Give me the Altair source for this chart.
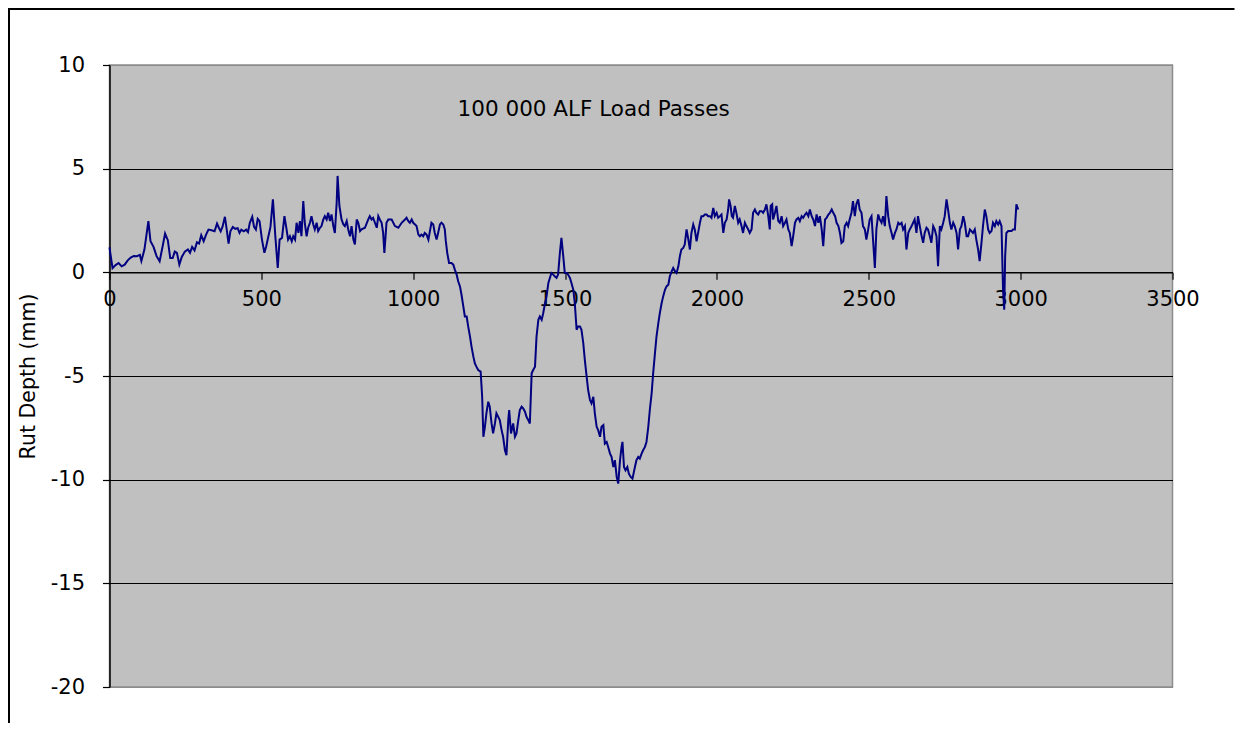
import altair as alt
import pandas as pd

# Distance along the profile (mm) and measured rut depth (mm)
dist = [
    0, 10, 20, 30, 40, 50, 60, 70, 80, 90, 100, 105, 115, 128, 135, 145, 155, 165, 175, 183,
    192, 200, 208, 215, 222, 230, 238, 248, 258, 265, 272, 280, 288, 295, 302, 310, 318, 326, 336, 346,
    354, 360, 366, 372, 380, 386, 392, 398, 406, 414, 422, 428, 434, 442, 450, 456, 462, 470, 476, 482,
    488, 494, 502, 510, 516, 522, 530, 538, 546, 554, 560, 568, 576,
    583, 588, 594, 600, 605, 611, 616, 622, 627, 632, 638, 643, 649, 654, 660, 665, 671, 676, 682, 687,
    693, 698, 704, 709, 715, 720, 726, 731, 737, 742, 748, 751, 757, 764, 770, 775, 781, 786, 792, 797,
    803, 808, 814, 819, 825, 830, 841, 852, 857, 863, 868, 874, 880, 885, 890, 896, 901, 905, 909, 912,
    918, 929, 940, 951, 962, 973, 978, 984, 989, 995, 1000, 1006, 1011, 1017, 1022, 1027, 1033, 1038, 1044, 1050,
    1055, 1060, 1066, 1071, 1077, 1082, 1088, 1093, 1099, 1104,
    1107, 1112, 1118, 1126, 1132, 1137, 1143, 1148, 1154, 1159, 1165, 1170, 1176, 1181, 1187, 1192, 1198, 1203, 1208, 1214,
    1222, 1227, 1231, 1236, 1241, 1247, 1252, 1258, 1263, 1269, 1274, 1280, 1285, 1291, 1296, 1302, 1307, 1313, 1316, 1322,
    1329, 1335, 1340, 1346, 1351, 1357, 1362, 1368, 1373, 1379, 1384, 1390, 1395, 1401, 1406, 1412, 1417, 1423, 1428, 1434,
    1439, 1445, 1450, 1455, 1461, 1466, 1472, 1477, 1483, 1488, 1494, 1499, 1505, 1510, 1516, 1521, 1527, 1532, 1538, 1543,
    1549, 1554, 1560, 1565, 1571, 1576, 1582, 1587, 1593, 1598, 1604, 1609, 1615, 1620, 1626, 1631, 1637, 1642, 1648, 1653,
    1659, 1664, 1670, 1675, 1681, 1686, 1689, 1694, 1699, 1705, 1710, 1716, 1722, 1730, 1735, 1741, 1746, 1752, 1757, 1763,
    1768, 1774, 1779, 1785, 1790, 1796, 1801, 1807, 1812, 1818, 1823, 1829, 1834, 1840, 1845, 1851, 1856, 1862, 1867,
    1873, 1878, 1883, 1889, 1894, 1900, 1905, 1911, 1916, 1922, 1927, 1933, 1938, 1944, 1949, 1955, 1960, 1966, 1971, 1977,
    1982, 1988, 1993, 1999, 2004, 2010, 2015, 2021, 2026, 2032, 2037, 2040, 2045, 2049, 2053, 2059, 2064, 2070, 2075, 2081,
    2086, 2092, 2097, 2103, 2108, 2114, 2119, 2125, 2130, 2136, 2141, 2147, 2152, 2158, 2163, 2169, 2174, 2177, 2182, 2185,
    2191, 2196, 2202, 2207, 2213, 2218, 2224, 2229, 2235, 2240, 2246, 2251, 2257, 2262, 2268, 2273, 2279, 2284, 2290, 2295,
    2301, 2306, 2312, 2317, 2323, 2328, 2334, 2339, 2345, 2350, 2356, 2361, 2367, 2372, 2378, 2383, 2389, 2394, 2400, 2405,
    2410, 2416, 2421, 2427, 2432, 2437, 2443, 2448,
    2454, 2459, 2465, 2470, 2476, 2481, 2487, 2492, 2498, 2503, 2509, 2514, 2520, 2525, 2531, 2536, 2542, 2547, 2553, 2558,
    2564, 2569, 2575, 2580, 2586, 2591, 2597, 2602, 2608, 2613, 2619, 2624, 2630, 2635, 2641, 2646, 2651, 2657, 2662, 2668,
    2673, 2679, 2684, 2690, 2695, 2701, 2706, 2712, 2717, 2723, 2728, 2734, 2739, 2745, 2750, 2756, 2761, 2767, 2772, 2778,
    2783, 2789, 2794, 2800, 2805, 2811, 2816, 2822, 2827, 2833, 2838, 2843, 2849, 2854, 2860, 2865, 2871, 2876, 2882, 2887,
    2893, 2898, 2904, 2909, 2915, 2920, 2926, 2931, 2937, 2942, 2946, 2949, 2953, 2959, 2964, 2970, 2975, 2981, 2986, 2992,
]
rut = [
    1.2, 0.2, 0.35, 0.45, 0.29, 0.37, 0.58, 0.71, 0.79, 0.78, 0.84, 0.55, 1.1, 2.47, 1.5, 1.23, 0.78, 0.53, 1.26, 1.87,
    1.55, 0.69, 0.69, 1.0, 0.94, 0.37, 0.74, 1.0, 1.1, 0.94, 1.23, 1.06, 1.45, 1.39, 1.79, 1.5, 1.82, 2.06, 2.03, 1.98,
    2.35, 2.15, 1.98, 2.19, 2.68, 2.06, 1.39, 1.98, 2.19, 2.1, 2.13, 1.9, 2.06, 1.98, 2.06, 1.94, 2.39, 2.68, 2.19, 2.06,
    2.58, 2.47, 1.58, 0.94, 1.26, 1.66, 2.19, 3.52, 1.74, 0.21, 1.58, 1.66, 2.71,
    2.07, 1.58, 1.74, 1.5, 1.74, 1.58, 2.39, 1.9, 2.47, 1.74, 3.44, 2.39, 1.74, 2.15, 2.39, 2.71, 2.31, 2.07, 2.39, 1.99,
    2.15, 2.23, 2.55, 2.71, 2.55, 2.87, 2.47, 2.79, 2.23, 1.9, 3.36, 4.65, 3.2, 2.55, 2.31, 2.23, 2.47, 2.07, 1.74, 2.23,
    1.58, 1.34, 2.55, 2.39, 1.99, 2.07, 2.15, 2.55, 2.71, 2.55, 2.63, 2.39, 2.15, 2.71, 2.55, 2.39, 1.9, 0.94, 1.74, 2.39,
    2.55, 2.55, 2.23, 2.15, 2.39, 2.55, 2.63, 2.47, 2.39, 2.55, 2.39, 2.31, 2.23, 1.82, 1.74, 1.82, 1.74, 1.9, 1.82, 1.58,
    1.99, 2.39, 2.31, 1.9, 1.58, 1.9, 2.31, 2.39, 2.31, 2.07,
    1.55, 0.94, 0.45, 0.45, 0.37, 0.13, -0.11, -0.43, -0.68, -1.08, -1.64, -2.13, -2.13, -2.61, -3.1, -3.58, -4.06, -4.39, -4.55, -4.71,
    -4.79, -6.0, -7.93, -7.45, -6.8, -6.24, -6.48, -7.29, -7.77, -7.29, -6.8, -6.97, -7.13, -7.61, -7.93, -8.58, -8.82, -7.13, -6.64, -7.77,
    -7.29, -7.93, -7.77, -7.13, -6.64, -6.48, -6.56, -6.72, -6.97, -7.13, -7.29, -4.87, -4.71, -4.55, -3.1, -2.29, -2.13, -2.29, -1.97, -1.48,
    -1.16, -0.51, -0.27, -0.03, -0.11, -0.19, -0.27, -0.11, 0.94, 1.66, 0.78, -0.03, -0.03, -0.11, -0.27, -0.51, -0.84, -1.48, -2.77, -2.61,
    -2.61, -2.77, -3.42, -4.22, -5.03, -5.68, -6.16, -6.32, -6.0, -6.8, -7.45, -7.61, -7.93, -7.45, -7.37, -8.26, -8.18, -8.42, -8.74, -8.9,
    -9.39, -9.06, -9.87, -10.19, -9.06, -8.42, -8.18, -9.39, -9.55, -9.39, -9.71, -9.87, -9.95, -9.39, -9.06, -8.9, -8.98, -8.74, -8.58, -8.42,
    -8.18, -7.45, -6.64, -5.84, -4.87, -3.9, -3.1, -2.45, -1.97, -1.48, -1.16, -0.84, -0.68, -0.6, -0.19, 0.05, 0.21, 0.05, -0.03,
    0.29, 0.78, 1.1, 1.18, 1.34, 2.07, 1.66, 1.1, 1.9, 2.31, 2.07, 1.5, 1.9, 2.39, 2.71, 2.71, 2.79, 2.79, 2.71, 2.71,
    2.63, 3.11, 2.71, 2.87, 2.63, 2.71, 2.79, 1.9, 2.39, 2.55, 3.03, 3.52, 3.2, 2.71, 2.63, 3.2, 2.87, 2.39, 2.55, 2.23,
    1.9, 2.39, 2.23, 2.07, 1.9, 2.07, 2.87, 3.03, 2.87, 2.79, 2.95, 2.95, 2.87, 3.03, 3.28, 2.71, 2.07, 3.2, 3.28, 2.55,
    2.87, 3.2, 2.47, 2.39, 2.71, 2.23, 2.39, 2.55, 2.07, 1.9, 1.26, 1.74, 2.39, 2.55, 2.63, 2.47, 2.71, 2.63, 2.79, 2.87,
    2.71, 3.03, 2.71, 2.55, 2.23, 2.79, 2.39, 2.71, 2.07, 1.26, 2.55, 2.63, 2.79, 2.87, 3.03, 2.87, 2.71, 2.39, 2.23, 1.9,
    1.42, 1.5, 2.23, 2.39, 2.23, 2.55, 2.87, 3.44,
    2.71, 3.28, 3.52, 3.03, 2.87, 2.23, 2.07, 1.58, 2.07, 2.55, 2.71, 1.58, 0.21, 2.07, 2.79, 2.55, 2.39, 2.71, 2.23, 3.68,
    2.71, 2.23, 1.9, 1.58, 1.9, 2.07, 2.39, 2.31, 2.39, 2.07, 2.23, 1.1, 1.9, 2.07, 2.23, 2.39, 2.55, 1.9, 2.71, 2.23,
    1.82, 1.42, 1.9, 2.15, 2.07, 1.74, 1.42, 2.23, 2.07, 1.74, 0.29, 2.23, 2.07, 2.39, 2.71, 3.52, 3.03, 2.39, 2.07, 2.39,
    2.23, 1.9, 1.1, 2.07, 2.23, 2.71, 2.39, 1.74, 1.74, 2.07, 1.99, 1.9, 2.07, 1.58, 1.1, 0.54, 1.42, 2.23, 3.03, 2.71,
    2.07, 1.9, 1.99, 2.39, 2.23, 2.47, 2.31, 2.47, 2.23, -0.84, -1.8, 0.78, 1.9, 1.99, 1.99, 1.99, 2.07, 2.07, 3.28, 3.03,
]

x_ticks = [0, 500, 1000, 1500, 2000, 2500, 3000, 3500]
y_ticks = [-20, -15, -10, -5, 0, 5, 10]

note_x = [1594]
note_y = [7.85]
note_text = ["100 000 ALF Load Passes"]

W, H = 1063, 622
PAD_L, PAD_T, PAD_R, PAD_B = 101.5, 57, 62, 36

df = pd.DataFrame({"dist": dist, "rut": rut})
note_df = pd.DataFrame({"x": note_x, "y": note_y, "label": note_text})
frame_df = pd.DataFrame({"k": [0]})

x_scale = alt.Scale(domain=[0, 3500], nice=False, zero=False)
y_scale = alt.Scale(domain=[-20, 10], nice=False)

AXIS_FONT = "DejaVu Sans"
PLAIN = "'' + datum.value"

x_axis = alt.Axis(
    values=x_ticks, title=None, grid=False,
    offset=-(H * 20 / 30),
    domainColor="black", domainWidth=1.2,
    tickColor="black", tickSize=7, tickWidth=1.2,
    labelExpr=PLAIN,
    labelFont=AXIS_FONT, labelFontSize=21, labelColor="black",
    labelPadding=9, labelFlush=False, labelOverlap=False,
)
y_axis = alt.Axis(
    values=y_ticks, title="Rut Depth (mm)",
    grid=True,
    gridColor={"condition": {"test": "datum.value == 10 || datum.value == -20", "value": "#8c8c8c"}, "value": "black"},
    gridWidth=1.2,
    domainColor="black", domainWidth=1.5,
    tickColor="black", tickSize=7, tickWidth=1.2,
    labelExpr=PLAIN,
    labelFont=AXIS_FONT, labelFontSize=21, labelColor="black", labelPadding=18,
    titleFont=AXIS_FONT, titleFontSize=20.5, titleFontWeight="normal", titleColor="black",
    titleX=-81, titleY=H / 2, titleAngle=270, titleAlign="center", titleBaseline="middle",
)

line = alt.Chart(df).mark_line(color="#000080", strokeWidth=2).encode(
    x=alt.X("dist:Q", scale=x_scale, axis=x_axis),
    y=alt.Y("rut:Q", scale=y_scale, axis=y_axis),
)

note = alt.Chart(note_df).mark_text(
    font="DejaVu Sans", fontSize=21.5, color="black", align="center", baseline="middle"
).encode(x=alt.X("x:Q", scale=x_scale), y=alt.Y("y:Q", scale=y_scale), text="label:N")

frame_top = alt.Chart(frame_df).mark_rule(color="black", strokeWidth=2, clip=False).encode(
    x=alt.value(-PAD_L), x2=alt.value(W + PAD_R), y=alt.value(-PAD_T + 1)
)
frame_left = alt.Chart(frame_df).mark_rule(color="black", strokeWidth=2, clip=False).encode(
    x=alt.value(-PAD_L + 1), y=alt.value(-PAD_T), y2=alt.value(H + PAD_B)
)

chart = alt.layer(frame_top, frame_left, line, note).properties(
    width=W, height=H,
    autosize=alt.AutoSizeParams(type="none"),
    padding={"left": PAD_L, "top": PAD_T, "right": PAD_R, "bottom": PAD_B},
    background="white",
).configure_view(
    fill="#C0C0C0", stroke="#8c8c8c", strokeWidth=1.5
)

chart.save("out.html", embed_options={"renderer": "svg", "actions": False})
